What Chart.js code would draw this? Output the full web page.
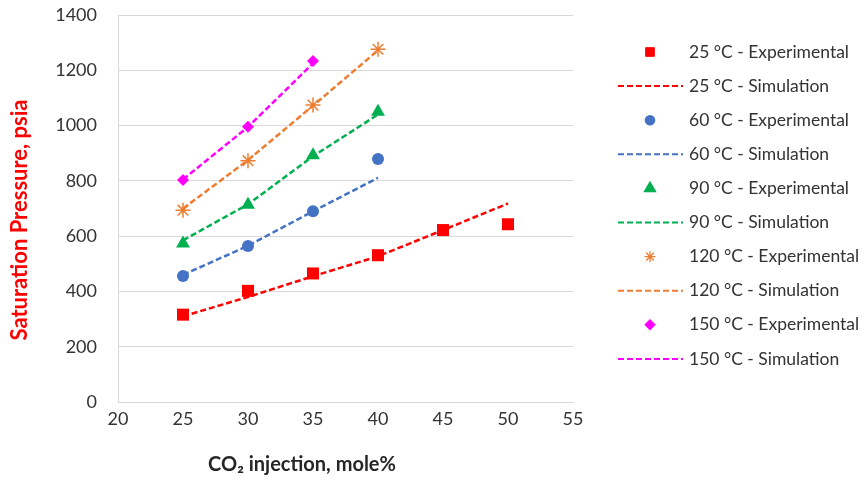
<!DOCTYPE html>
<html lang="en">
<head>
    <meta charset="UTF-8">
    <title>Saturation Pressure</title>
    <style>
        body { margin: 0; background: #fff; }
        #wrap { width: 865px; height: 478px; }
    </style>
</head>
<body>
<div id="wrap"><canvas id="myChart" width="865" height="478"></canvas></div>
<script src="https://cdn.jsdelivr.net/npm/chart.js"></script>
<script>
// CO2 injection, mole%
var co2_25 = [25, 30, 35, 40, 45, 50];
var co2_60 = [25, 30, 35, 40];
var co2_90 = [25, 30, 35, 40];
var co2_120 = [25, 30, 35, 40];
var co2_150 = [25, 30, 35];

// saturation pressure, psia
var exp25 = [316, 402, 465, 531, 622, 643];
var sim25 = [310, 380, 455, 527, 622, 718];
var exp60 = [456, 564, 690, 879];
var sim60 = [460, 565, 690, 811];
var exp90 = [573, 714, 893, 1050];
var sim90 = [585, 715, 889, 1040];
var exp120 = [694, 873, 1074, 1276];
var sim120 = [700, 875, 1072, 1272];
var exp150 = [803, 996, 1234];
var sim150 = [805, 995, 1225];

var xTicks = [20, 25, 30, 35, 40, 45, 50, 55];
var yTicks = [0, 200, 400, 600, 800, 1000, 1200, 1400];

var labels = ["25 °C - Experimental", "25 °C - Simulation", "60 °C - Experimental", "60 °C - Simulation",
    "90 °C - Experimental", "90 °C - Simulation", "120 °C - Experimental", "120 °C - Simulation",
    "150 °C - Experimental", "150 °C - Simulation"];

function pts(xs, ys) { return xs.map(function (x, i) { return {x: x, y: ys[i]}; }); }

function expSet(label, xs, ys, color, style, r) {
    return {label: label, data: pts(xs, ys), showLine: false, pointStyle: style, pointRadius: r, pointHoverRadius: r,
        backgroundColor: color, borderColor: color, pointBorderWidth: style === 'star' ? 1.5 : 0, order: 1};
}
function simSet(label, xs, ys, color) {
    return {label: label, data: pts(xs, ys), showLine: true, pointRadius: 0, borderColor: color, backgroundColor: color,
        borderWidth: 2.5, borderDash: [6, 3], tension: 0, order: 2};
}

var datasets = [
    expSet(labels[0], co2_25, exp25, '#FF0000', 'rect', 8.5),
    simSet(labels[1], co2_25, sim25, '#FF0000'),
    expSet(labels[2], co2_60, exp60, '#4472C4', 'circle', 6),
    simSet(labels[3], co2_60, sim60, '#4472C4'),
    expSet(labels[4], co2_90, exp90, '#00B050', 'triangle', 8),
    simSet(labels[5], co2_90, sim90, '#00B050'),
    expSet(labels[6], co2_120, exp120, '#ED7D31', 'star', 7.5),
    simSet(labels[7], co2_120, sim120, '#ED7D31'),
    expSet(labels[8], co2_150, exp150, '#FF00FF', 'rectRot', 6),
    simSet(labels[9], co2_150, sim150, '#FF00FF')
];

// legend and axis titles drawn by hand
var extras = {
    id: 'extras',
    afterDraw: function (chart) {
        var ctx = chart.ctx;
        ctx.save();
        chart.data.datasets.forEach(function (ds, i) {
            var y = 52 + i * 34.1;
            if (ds.showLine) {
                ctx.strokeStyle = ds.borderColor;
                ctx.lineWidth = 2;
                ctx.setLineDash([6, 3]);
                ctx.beginPath();
                ctx.moveTo(618, y);
                ctx.lineTo(683, y);
                ctx.stroke();
                ctx.setLineDash([]);
            } else {
                ctx.fillStyle = ds.backgroundColor;
                ctx.strokeStyle = ds.borderColor;
                ctx.lineWidth = ds.pointStyle === 'star' ? 1.3 : 0;
                Chart.helpers.drawPoint(ctx, {pointStyle: ds.pointStyle, radius: ds.pointRadius * 0.72, borderWidth: ctx.lineWidth}, 650, y);
            }
            ctx.fillStyle = '#333333';
            ctx.font = '17.5px Lato';
            ctx.textAlign = 'left';
            ctx.textBaseline = 'middle';
            ctx.fillText(ds.label, 689, y);
        });

        ctx.fillStyle = '#262626';
        ctx.font = 'bold 20px Lato';
        ctx.textAlign = 'center';
        ctx.textBaseline = 'middle';
        ctx.fillText('CO₂ injection, mole%', 302, 465);

        ctx.translate(20, 220);
        ctx.rotate(-Math.PI / 2);
        ctx.fillStyle = '#FF0000';
        ctx.font = 'bold 22px Lato';
        ctx.fillText('Saturation Pressure, psia', 0, 0);
        ctx.restore();
    }
};

var mychart = document.getElementById("myChart").getContext("2d");
new Chart(mychart, {
    type: 'scatter',
    data: {datasets: datasets},
    plugins: [extras],
    options: {
        responsive: false,
        animation: false,
        layout: {padding: {top: 15, right: 292, left: 0, bottom: 0}},
        plugins: {legend: {display: false}, tooltip: {enabled: false}},
        scales: {
            x: {
                type: 'linear', min: 20, max: 55,
                afterBuildTicks: function (s) { s.ticks = xTicks.map(function (v) { return {value: v}; }); },
                afterFit: function (s) { s.height = 76; s.paddingLeft = 0; s.paddingRight = 0; },
                grid: {display: false, drawTicks: false},
                border: {color: '#d9d9d9', width: 1},
                ticks: {color: '#333333', font: {family: 'Lato', size: 18}, padding: 6, maxRotation: 0,
                    callback: function (v) { return String(v); }}
            },
            y: {
                min: 0, max: 1400,
                afterBuildTicks: function (s) { s.ticks = yTicks.map(function (v) { return {value: v}; }); },
                afterFit: function (s) { s.width = 118; s.paddingTop = 0; s.paddingBottom = 0; },
                grid: {color: '#d9d9d9', lineWidth: 1, drawTicks: false},
                border: {color: '#d9d9d9', width: 1},
                ticks: {color: '#333333', font: {family: 'Lato', size: 18}, padding: 21,
                    callback: function (v) { return String(v); }}
            }
        }
    }
});
</script>
</body>
</html>
